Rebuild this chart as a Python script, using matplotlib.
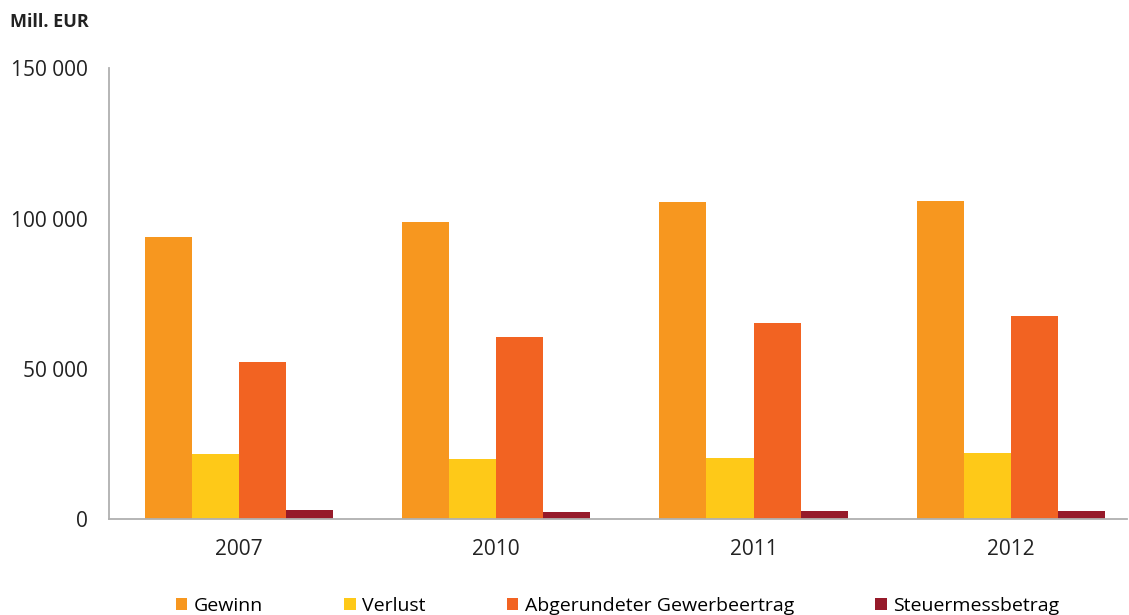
import numpy as np
import matplotlib.pyplot as plt
from matplotlib.ticker import FuncFormatter

plt.rcParams['font.family'] = ['Open Sans', 'DejaVu Sans']

years = ['2007', '2010', '2011', '2012']
series_names = ['Gewinn', 'Verlust', 'Abgerundeter Gewerbeertrag', 'Steuermessbetrag']
gewinn = [93800, 98700, 105500, 105800]
verlust = [21800, 20100, 20400, 22100]
gewerbeertrag = [52400, 60500, 65200, 67500]
steuermessbetrag = [3150, 2400, 2700, 2800]
colors = ['#F7971F', '#FEC918', '#F26322', '#961A2A']

values = [gewinn, verlust, gewerbeertrag, steuermessbetrag]

fig = plt.figure(figsize=(11.29, 6.15), dpi=100)
ax = fig.add_axes([0.0965, 0.1553, 0.9015, 0.7341])

x = np.arange(len(years))
width = 0.183
for i, (name, vals) in enumerate(zip(series_names, values)):
    ax.bar(x + (i - 1.5) * width, vals, width, color=colors[i], label=name,
           edgecolor='none')

ax.set_xlim(-0.506, 3.451)
ax.set_ylim(0, 150000)
ax.set_yticks([0, 50000, 100000, 150000])
ax.yaxis.set_major_formatter(FuncFormatter(lambda v, p: f'{int(v):,}'.replace(',', ' ')))
ax.set_xticks(x)
ax.set_xticklabels(years)
ax.tick_params(axis='both', length=0, labelsize=15, colors='#222222')
ax.tick_params(axis='y', pad=15)
ax.tick_params(axis='x', pad=14)

for side in ['top', 'right']:
    ax.spines[side].set_visible(False)
for side in ['left', 'bottom']:
    ax.spines[side].set_color('#b0b0b0')
    ax.spines[side].set_linewidth(1.3)

fig.text(0.009, 0.964, 'Mill. EUR', fontsize=13, fontweight='bold', va='center',
         color='#222222')

fig.legend(loc='center', bbox_to_anchor=(0.547, 0.015), ncol=4, frameon=False,
           fontsize=14, handlelength=0.6, handleheight=0.6, handletextpad=0.35,
           columnspacing=4.15)

fig.savefig('out.png', dpi=100)
